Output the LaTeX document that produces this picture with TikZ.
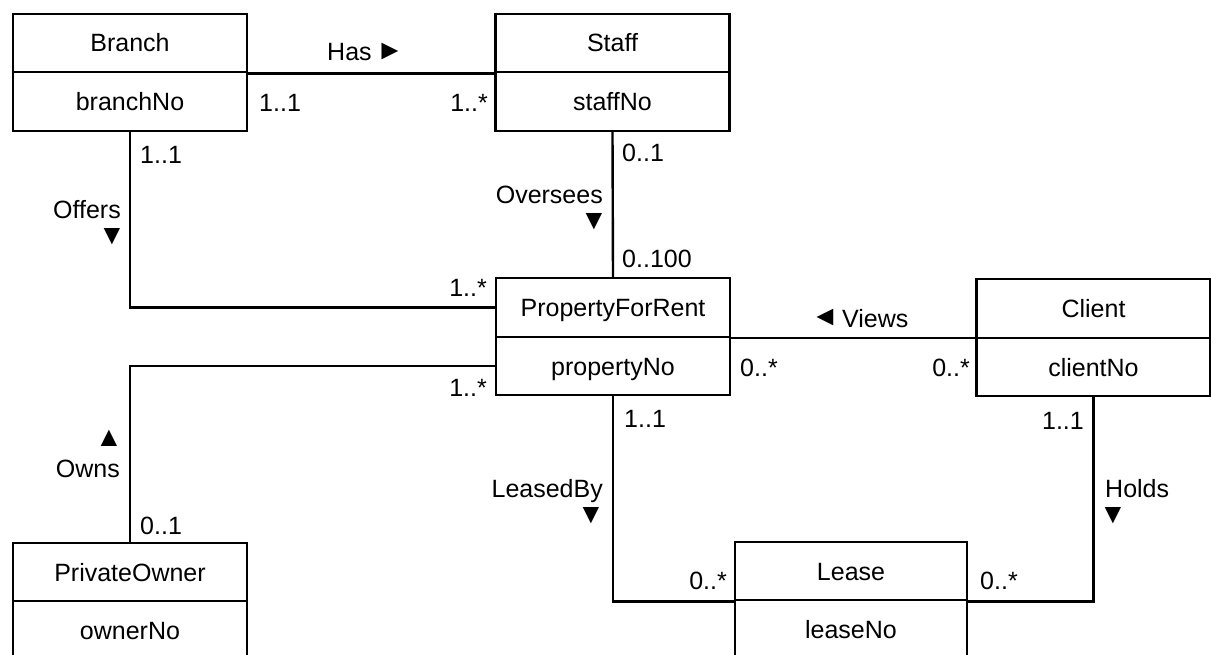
\documentclass[tikz,border=0pt]{standalone}
\usepackage{fontspec}
\setmainfont{Liberation Sans}
\begin{document}
\begin{tikzpicture}[x=1pt,y=-1pt,
  every node/.style={font=\fontsize{25}{30}\selectfont},
  cls/.style={draw, line width=2.4pt, minimum width=234pt, minimum height=58.5pt, inner sep=0pt, text height=18pt, text depth=0pt},
  lbl/.style={inner sep=0pt, text height=18pt, text depth=0pt},
  trinode/.style={inner sep=0pt, font=\fontsize{28}{32}\selectfont},
  conn/.style={line width=2.4pt}]
\useasboundingbox (0,0) rectangle (1211,655);
\begin{scope}
\clip (0,0) rectangle (1211,655);
% classes
\node[cls] (branch)  at (130,43)    {Branch};
\node[cls] (branchA) at (130,101.5) {branchNo};
\node[cls] (staff)   at (612.5,43)    {Staff};
\node[cls] (staffA)  at (612.5,101.5) {staffNo};
\node[cls] (pfr)     at (613,307.5) {PropertyForRent};
\node[cls] (pfrA)    at (613,366)   {propertyNo};
\node[cls] (client)  at (1093.5,308.5) {Client};
\node[cls] (clientA) at (1093.5,367)   {clientNo};
\node[cls] (po)      at (130,572) {PrivateOwner};
\node[cls] (poA)     at (130,630.5) {ownerNo};
\node[cls, minimum width=232pt] (lease)  at (851,571) {Lease};
\node[cls, minimum width=232pt] (leaseA) at (851,629.5) {leaseNo};
% connectors
\draw[conn] (branch.south east) -- (staff.south west);
\draw[conn] (branchA.south) |- (pfr.west);
\draw[conn] (staffA.south) -- (pfr.north);
\draw[conn] (pfrA.west) -| (po.north);
\draw[conn] (pfr.south east) -- (pfr.south east -| client.west);
\draw[conn] (pfrA.south) |- (lease.south west);
\draw[conn] (clientA.south) |- (lease.south east);
\end{scope}
% labels
\node[lbl, anchor=west] (lHas) at (327,52) {Has};
\node[trinode] (tHas) at (390,52) {►};
\node[lbl, anchor=west] (m1) at (259,103) {1..1};
\node[lbl, anchor=east] (m2) at (488,103) {1..*};
\node[lbl, anchor=west] (m3) at (140,155) {1..1};
\node[lbl, anchor=east] (lOffers) at (121,210) {Offers};
\node[trinode] (tOffers) at (112,237) {▼};
\node[lbl, anchor=west] (m4) at (622,153) {0..1};
\node[lbl, anchor=east] (lOversees) at (603,195) {Oversees};
\node[trinode] (tOversees) at (594,222) {▼};
\node[lbl, anchor=west] (m5) at (622,259) {0..100};
\node[lbl, anchor=east] (m6) at (487,288) {1..*};
\node[lbl, anchor=east] (m7) at (487,387) {1..*};
\node[lbl, anchor=west] (m8) at (740,367) {0..*};
\node[trinode] (tViews) at (825,318) {◄};
\node[lbl, anchor=west] (lViews) at (842,318) {Views};
\node[lbl, anchor=east] (m9) at (970,367) {0..*};
\node[lbl, anchor=west] (m10) at (624,418) {1..1};
\node[lbl, anchor=east] (m11) at (1084,420) {1..1};
\node[lbl, anchor=east] (lLeased) at (603,488) {LeasedBy};
\node[trinode] (tLeased) at (591,516) {▼};
\node[lbl, anchor=west] (lHolds) at (1105,488) {Holds};
\node[trinode] (tHolds) at (1113,516) {▼};
\node[trinode] (tOwns) at (109,438) {▲};
\node[lbl, anchor=east] (lOwns) at (120,468) {Owns};
\node[lbl, anchor=west] (m12) at (140,525) {0..1};
\node[lbl, anchor=east] (m13) at (727,580) {0..*};
\node[lbl, anchor=west] (m14) at (980,580) {0..*};
\end{tikzpicture}
\end{document}
